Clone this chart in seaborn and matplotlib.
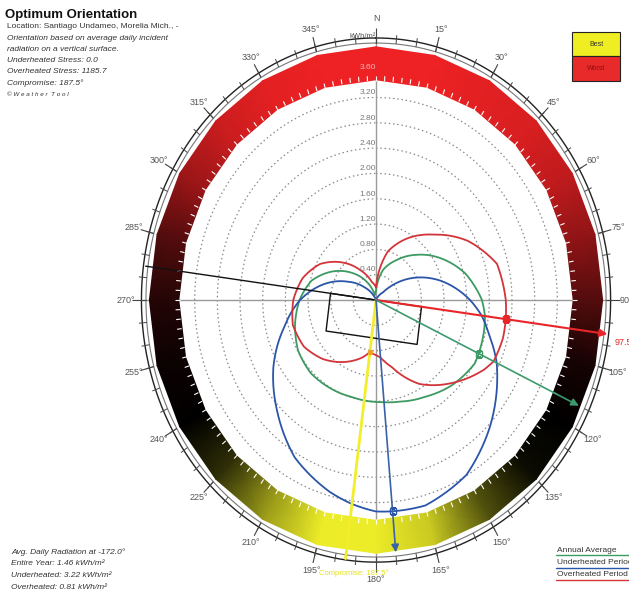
import numpy as np
import pandas as pd
import seaborn as sns
import matplotlib.pyplot as plt
from matplotlib.colors import LinearSegmentedColormap
from matplotlib.patches import Rectangle
from matplotlib.lines import Line2D

# orientation of the surface, degrees clockwise from north
angles = [0, 15, 30, 45, 60, 75, 90, 97.5, 105, 115, 120, 135, 150, 165, 175,
          180, 187.5, 195, 210, 225, 240, 255, 270, 285, 300, 315, 330, 345]

# average daily incident radiation, kWh/m2
annual = [0.15, 0.50, 0.73, 1.01, 1.32, 1.63, 1.87, 1.94, 1.97, 2.00, 2.01, 1.90, 1.76, 1.66,
          1.62, 1.61, 1.60, 1.59, 1.61, 1.63, 1.59, 1.48, 1.35, 1.18, 0.90, 0.61, 0.34, 0.08]
underheated = [0.00, 0.01, 0.04, 0.17, 0.68, 1.18, 1.66, 1.88, 2.06, 2.35, 2.47, 2.84, 3.19, 3.36,
               3.35, 3.34, 3.25, 3.14, 2.87, 2.47, 2.09, 1.68, 1.34, 0.96, 0.58, 0.28, 0.07, 0.01]
overheated = [0.20, 0.79, 1.13, 1.46, 1.87, 2.21, 2.29, 2.31, 2.32, 2.29, 2.20, 1.86, 1.53, 1.10,
              0.91, 0.87, 0.83, 0.94, 1.13, 1.32, 1.47, 1.52, 1.46, 1.34, 1.14, 0.84, 0.54, 0.30]

# colour band: +1 worst (red), 0 neutral (black), -1 best (yellow)
band_angles = list(range(0, 360, 15))
band_score = [1.0, 1.0, 0.95, 0.9, 0.8, 0.6, 0.35, 0.1, 0.0, -0.05, -0.35, -0.85,
              -1.0, -1.0, -0.65, -0.2, 0.0, 0.05, 0.15, 0.35, 0.65, 0.85, 0.95, 1.0]

ring_values = [0.4, 0.8, 1.2, 1.6, 2.0, 2.4, 2.8, 3.2, 3.6]
tick_labels = [f"{a}\u00b0" for a in range(15, 360, 15)]

worst_angle = 97.5
best_annual_angle = 115
best_under_angle = 175
compromise = 187.5

df = pd.DataFrame({"angle": angles, "Annual Average": annual,
                   "Underheated Period": underheated, "Overheated Period": overheated})
df = pd.concat([df, df.iloc[[0]].assign(angle=360)], ignore_index=True)
df["theta"] = np.deg2rad(df["angle"])

sns.set_style("white")
plt.rcParams['font.family'] = ['Liberation Sans', 'DejaVu Sans']

fig = plt.figure(figsize=(6.29, 5.91), dpi=100)
ax = fig.add_axes([0.1924, 0.0103, 0.8108, 0.964], projection='polar')
ax.set_aspect('auto')
ax.set_theta_zero_location('N')
ax.set_theta_direction(-1)
ax.set_ylim(0, 4.5)
ax.set_xticks([])
ax.set_yticks([])
ax.grid(False)
ax.spines['polar'].set_visible(False)
ax.patch.set_alpha(0)

full = np.linspace(0, 2 * np.pi, 721)

# dotted rings and cross hairs
for v in ring_values:
    ax.plot(full, np.full_like(full, v), color='#8a8a8a', lw=0.9, ls=(0, (1.2, 2.2)), zorder=1)
for a in [0, 90, 180, 270]:
    ax.plot([np.deg2rad(a)] * 2, [0, 4.14], color='#9a9a9a', lw=1.0, zorder=1.5)

# colour band
cmap = LinearSegmentedColormap.from_list('bw', ['#ecec28', '#000000', '#ee2224'])
bt = np.deg2rad(band_angles + [360])
bc = np.array(band_score + [band_score[0]])
T, R = np.meshgrid(bt, [3.48, 4.0])
ax.pcolormesh(T, R, np.vstack([bc, bc]), cmap=cmap, vmin=-1, vmax=1,
              shading='gouraud', zorder=2)
ax.vlines(np.deg2rad(np.arange(0, 360, 2.5)), 3.46, 3.54, color='white', lw=0.8, zorder=2.1)

# outer scale rings and ticks
ax.plot(full, np.full_like(full, 4.06), color='#777777', lw=0.8, zorder=3)
ax.plot(full, np.full_like(full, 4.14), color='#222222', lw=1.0, zorder=3)
ax.vlines(np.deg2rad(np.arange(0, 360, 5)), 4.06, 4.2, color='#444444', lw=0.7, zorder=3)
ax.vlines(np.deg2rad(np.arange(0, 360, 15)), 4.06, 4.3, color='#444444', lw=0.8, zorder=3)

# radiation curves, joined as polar arcs between the readings
palette = {"Annual Average": '#3c9a62', "Underheated Period": '#2b55a8',
           "Overheated Period": '#d2343a'}
for name, col in palette.items():
    n_before = len(ax.lines)
    sns.lineplot(data=df, x="theta", y=name, ax=ax, color=col, lw=1.3,
                 sort=False, estimator=None, zorder=4)
    for ln in ax.lines[n_before:]:
        ln.get_path()._interpolation_steps = 24
ax.set_xlabel('')
ax.set_ylabel('')

# building outline along the worst axis, facing the compromise orientation
half_w, depth = 0.81, 0.60
u = np.array([np.sin(np.deg2rad(worst_angle)), np.cos(np.deg2rad(worst_angle))])
w = np.array([np.sin(np.deg2rad(compromise)), np.cos(np.deg2rad(compromise))])
corners = np.array([-half_w * u, half_w * u, half_w * u + depth * w, -half_w * u + depth * w, -half_w * u])
ax.plot(np.arctan2(corners[:, 0], corners[:, 1]), np.hypot(corners[:, 0], corners[:, 1]),
        color='#111111', lw=1.0, zorder=5)
ax.plot([np.deg2rad(worst_angle + 180), 0], [4.1, 0], color='#111111', lw=1.0, zorder=5)

# direction arrows
def arrow(angle, r, col, lw=1.2):
    ax.annotate('', xy=(np.deg2rad(angle), r), xytext=(0, 0),
                arrowprops=dict(arrowstyle='-|>', color=col, lw=lw, mutation_scale=11,
                                shrinkA=0, shrinkB=0), zorder=6)

arrow(worst_angle, 4.12, '#e8262a', 1.5)
arrow(best_annual_angle, 3.95, '#3c9a6e')
arrow(best_under_angle, 4.0, '#3a62a6')
ax.plot([0, np.deg2rad(compromise)], [0, 4.12], color='#f2ee2c', lw=2.0, zorder=5.5)

ax.plot(np.deg2rad(worst_angle), 2.31, 's', color='#e8262a', ms=5, zorder=7)
ax.plot(np.deg2rad(best_annual_angle), 2.0, 's', mfc='none', mec='#3c9a62', ms=4, zorder=7)
ax.plot(np.deg2rad(best_under_angle), 3.35, 's', mfc='none', mec='#2b55a8', ms=4, zorder=7)
ax.plot(np.deg2rad(compromise), 0.83, 'o', color='#f0a020', ms=3, zorder=7)

# labels
for v in ring_values:
    col = '#f3b7b7' if v > 3.4 else '#777777'
    ax.text(0, v + 0.02, f"{v:.2f}", ha='right', va='bottom', fontsize=6, color=col, zorder=8)
ax.text(0, 4.16, 'kWh/m\u00b2', ha='right', va='center', fontsize=5.5, color='#555555')
ax.text(0, 4.45, 'N', ha='center', va='center', fontsize=6.5, color='#555555')
for a, lab in zip(range(15, 360, 15), tick_labels):
    ax.text(np.deg2rad(a), 4.42, lab, ha='center', va='center', fontsize=6.5, color='#555555')
ax.text(np.deg2rad(99), 4.26, '97.5\u00b0', ha='left', va='center', fontsize=6.5, color='#e8262a')
ax.text(np.deg2rad(185.3), 4.33, 'Compromise: 187.5\u00b0', ha='center', va='center',
        fontsize=5.5, color='#e6e21a')

# header text
fig.text(5 / 629, 1 - 15 / 591, 'Optimum Orientation', fontsize=9.5, fontweight='bold',
         va='center', color='#111111')
info = [('Location: Santiago Undameo, Morelia Mich., -', 'normal'),
        ('Orientation based on average daily incident', 'italic'),
        ('radiation on a vertical surface.', 'italic'),
        ('Underheated Stress: 0.0', 'italic'),
        ('Overheated Stress: 1185.7', 'italic'),
        ('Compromise: 187.5\u00b0', 'italic')]
for i, (line, style) in enumerate(info):
    fig.text(7 / 629, 1 - (27 + 11.2 * i) / 591, line, fontsize=6, style=style,
             va='center', color='#333333')
fig.text(7 / 629, 1 - 94 / 591, '\u00a9 W e a t h e r  T o o l', fontsize=4.5, style='italic',
         va='center', color='#333333')

footer = ['Avg. Daily Radiation at -172.0\u00b0', 'Entire Year: 1.46 kWh/m\u00b2',
          'Underheated: 3.22 kWh/m\u00b2', 'Overheated: 0.81 kWh/m\u00b2']
for i, line in enumerate(footer):
    fig.text(11 / 629, 1 - (552 + 11.7 * i) / 591, line, fontsize=6, style='italic',
             va='center', color='#333333')

# best / worst key
fig.add_artist(Rectangle((572 / 629, 1 - 56 / 591), 48 / 629, 24 / 591, transform=fig.transFigure,
                         facecolor='#eeee22', edgecolor='#222222', lw=0.8))
fig.add_artist(Rectangle((572 / 629, 1 - 81 / 591), 48 / 629, 25 / 591, transform=fig.transFigure,
                         facecolor='#e82a2a', edgecolor='#222222', lw=0.8))
fig.text(596 / 629, 1 - 44 / 591, 'Best', fontsize=5, ha='center', va='center', color='#333333')
fig.text(596 / 629, 1 - 69 / 591, 'Worst', fontsize=5, ha='center', va='center', color='#8a1010')

# series key
for i, (name, col) in enumerate(palette.items()):
    y = 550 + 12.5 * i
    fig.text(557 / 629, 1 - y / 591, name, fontsize=6, va='center', color='#333333')
    fig.add_artist(Line2D([556 / 629, 1.0], [1 - (y + 5) / 591] * 2, color=col, lw=1.0,
                          transform=fig.transFigure))

fig.savefig('out.png', dpi=100)
